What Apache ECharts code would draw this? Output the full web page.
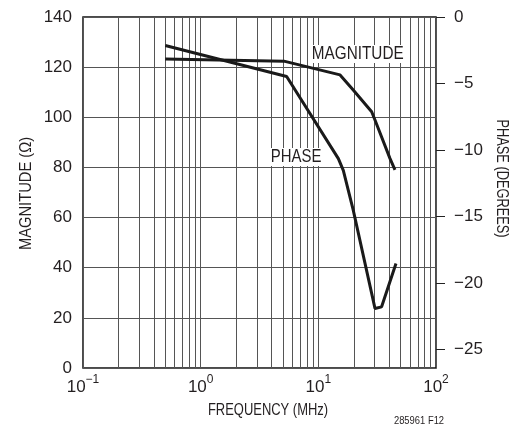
<!DOCTYPE html>
<html><head><meta charset="utf-8">
<script src="https://cdn.jsdelivr.net/npm/echarts@6/dist/echarts.min.js"></script>
<style>html,body{margin:0;padding:0;background:#fff}#c{width:516px;height:426px}</style>
</head><body><div id="c"></div>
<script>
// ---- data ----
const magFreq = [0.5, 5.1, 15.3, 19.8, 28.4, 30.3, 40.6, 44.8];          // MHz
const magValues = [123.2, 122.4, 116.9, 110.9, 102.2, 98.9, 83.6, 79.0];  // ohms
const phaseFreq = [0.5, 5.38, 14.8, 16.3, 19.8, 30.3, 34.5, 45.7];        // MHz
const phaseValues = [-2.14, -4.47, -10.65, -11.53, -14.53, -21.92, -21.8, -18.54]; // degrees
const minorGridFreq = [0.2,0.3,0.4,0.5,0.6,0.7,0.8,0.9, 2,3,4,5,6,7,8,9, 20,30,40,50,60,70,80,90];
const phaseTicks = [0, -5, -10, -15, -20, -25];
const magRange = [0, 140];
const magStep = 20;
const phaseRange = [-26.4, 0];
const freqRange = [0.1, 100];

const FONT = '"Liberation Sans Narrow", "Liberation Sans", Arial, sans-serif';
const INK = '#231f20';

const chart = echarts.init(document.getElementById('c'), null, {renderer: 'canvas'});
const sup = v => {
  const e = Math.round(Math.log10(v));
  return e < 0 ? '\u2212' + (-e) : '' + e;
};
const minus = v => (v < 0 ? '\u2212' + (-v) : '' + v);

chart.setOption({
  animation: false,
  backgroundColor: '#fff',
  grid: {left: 83, right: 80, top: 17, bottom: 58, show: true, borderColor: '#111', borderWidth: 1.5, backgroundColor: 'transparent'},
  xAxis: {
    type: 'log', logBase: 10, min: freqRange[0], max: freqRange[1],
    axisLine: {show: false},
    axisTick: {show: false},
    minorTick: {show: false},
    splitLine: {show: true, lineStyle: {color: '#555', width: 1}},
    axisLabel: {
      margin: 6,
      formatter: v => '{b|10}{s|' + sup(v) + '}',
      rich: {
        b: {fontFamily: FONT, fontSize: 17, color: INK, verticalAlign: 'bottom', lineHeight: 22},
        s: {fontFamily: FONT, fontSize: 12, color: INK, verticalAlign: 'top', lineHeight: 12}
      }
    }
  },
  yAxis: [
    {
      type: 'value', position: 'left', min: magRange[0], max: magRange[1], interval: magStep,
      axisLine: {show: false}, axisTick: {show: false},
      splitLine: {show: true, lineStyle: {color: '#555', width: 1}},
      axisLabel: {margin: 11, fontFamily: FONT, fontSize: 17, color: INK}
    },
    {
      type: 'value', position: 'right', min: phaseRange[0], max: phaseRange[1],
      axisLine: {show: false},
      axisTick: {show: true, inside: false, length: 9, customValues: phaseTicks, lineStyle: {color: '#222', width: 1}},
      splitLine: {show: false},
      axisLabel: {margin: 18, fontFamily: FONT, fontSize: 17, color: INK, customValues: phaseTicks, formatter: minus}
    }
  ],
  series: [
    {
      type: 'line', name: 'grid', z: 1, silent: true, data: [],
      xAxisIndex: 0, yAxisIndex: 0,
      markLine: {
        silent: true, symbol: ['none', 'none'], label: {show: false}, z: 1,
        lineStyle: {color: '#555', width: 1, type: 'solid'},
        emphasis: {disabled: true},
        data: minorGridFreq.map(f => ({xAxis: f}))
      }
    },
    {
      type: 'line', name: 'MAGNITUDE', z: 3, xAxisIndex: 0, yAxisIndex: 0,
      symbol: 'none', lineStyle: {color: '#1a1a1a', width: 3},
      data: magFreq.map((f, i) => [f, magValues[i]])
    },
    {
      type: 'line', name: 'PHASE', z: 3, xAxisIndex: 0, yAxisIndex: 1,
      symbol: 'none', lineStyle: {color: '#1a1a1a', width: 3},
      data: phaseFreq.map((f, i) => [f, phaseValues[i]])
    }
  ],
  graphic: [
    {type: 'text', z: 100, x: 27, y: 193.5, rotation: Math.PI / 2, scaleX: 0.92,
     style: {text: 'MAGNITUDE (\u03A9)', font: '16px ' + FONT, fill: INK, align: 'center', verticalAlign: 'middle'}},
    {type: 'text', z: 100, x: 501.5, y: 178.5, rotation: -Math.PI / 2, scaleX: 0.8,
     style: {text: 'PHASE (DEGREES)', font: '16px ' + FONT, fill: INK, align: 'center', verticalAlign: 'middle'}},
    {type: 'text', z: 100, x: 268, y: 411, scaleX: 0.81,
     style: {text: 'FREQUENCY (MHz)', font: '16px ' + FONT, fill: INK, align: 'center', verticalAlign: 'middle'}},
    {type: 'text', z: 100, x: 419, y: 421, scaleX: 0.94,
     style: {text: '285961 F12', font: '10px ' + FONT, fill: INK, align: 'center', verticalAlign: 'middle'}},
    {type: 'text', z: 100, x: 311, y: 54, scaleX: 0.85,
     style: {text: 'MAGNITUDE', font: '18px ' + FONT, fill: INK, align: 'left', verticalAlign: 'middle', backgroundColor: '#fff', padding: [0, 1]}},
    {type: 'text', z: 100, x: 270, y: 157, scaleX: 0.83,
     style: {text: 'PHASE', font: '18px ' + FONT, fill: INK, align: 'left', verticalAlign: 'middle', backgroundColor: '#fff', padding: [0, 1]}}
  ]
});
</script>
</body></html>
